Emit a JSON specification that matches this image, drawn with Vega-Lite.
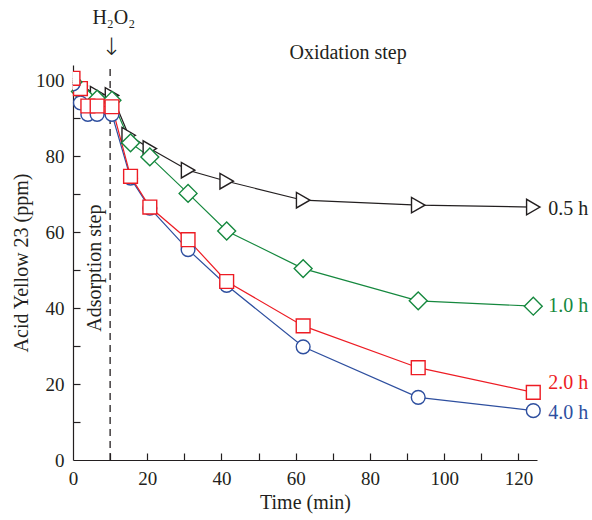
{
  "$schema": "https://vega.github.io/schema/vega-lite/v6.json",
  "width": 464,
  "height": 395,
  "autosize": "none",
  "padding": {"left": 73, "top": 65, "right": 55, "bottom": 60},
  "config": {
    "font": "Liberation Serif",
    "view": {"stroke": null},
    "axis": {
      "grid": false,
      "labelFlush": false,
      "domainColor": "#231f20",
      "domainWidth": 1.2,
      "tickColor": "#231f20",
      "tickWidth": 1.2,
      "tickSize": 7,
      "labelFont": "Liberation Serif",
      "labelFontSize": 19,
      "labelColor": "#231f20",
      "titleFont": "Liberation Serif",
      "titleFontSize": 20,
      "titleFontWeight": "normal",
      "titleColor": "#231f20"
    }
  },
  "resolve": {"axis": {"x": "independent", "y": "independent"}},
  "datasets": {
    "series": [
      {"s": "0.5 h", "t": 0, "c": 100},
      {"s": "0.5 h", "t": 2, "c": 98.5},
      {"s": "0.5 h", "t": 4, "c": 96.5},
      {"s": "0.5 h", "t": 6.5, "c": 96.3},
      {"s": "0.5 h", "t": 10.5, "c": 96},
      {"s": "0.5 h", "t": 15, "c": 85.5},
      {"s": "0.5 h", "t": 20.7, "c": 82},
      {"s": "0.5 h", "t": 31, "c": 76.3},
      {"s": "0.5 h", "t": 41.4, "c": 73.4},
      {"s": "0.5 h", "t": 62, "c": 68.4},
      {"s": "0.5 h", "t": 93, "c": 67.1},
      {"s": "0.5 h", "t": 124, "c": 66.6},
      {"s": "1.0 h", "t": 0, "c": 99.5},
      {"s": "1.0 h", "t": 2, "c": 97},
      {"s": "1.0 h", "t": 4, "c": 95},
      {"s": "1.0 h", "t": 6.5, "c": 95},
      {"s": "1.0 h", "t": 10.5, "c": 94.7},
      {"s": "1.0 h", "t": 15.5, "c": 83.5},
      {"s": "1.0 h", "t": 20.7, "c": 79.8},
      {"s": "1.0 h", "t": 31, "c": 70.2},
      {"s": "1.0 h", "t": 41.4, "c": 60.3},
      {"s": "1.0 h", "t": 62, "c": 50.4},
      {"s": "1.0 h", "t": 93, "c": 41.9},
      {"s": "1.0 h", "t": 124, "c": 40.5},
      {"s": "4.0 h", "t": 0, "c": 99},
      {"s": "4.0 h", "t": 2, "c": 94},
      {"s": "4.0 h", "t": 4, "c": 91},
      {"s": "4.0 h", "t": 6.5, "c": 91},
      {"s": "4.0 h", "t": 10.5, "c": 91},
      {"s": "4.0 h", "t": 15.5, "c": 74.2},
      {"s": "4.0 h", "t": 20.7, "c": 66.3},
      {"s": "4.0 h", "t": 31, "c": 55.4},
      {"s": "4.0 h", "t": 41.4, "c": 46},
      {"s": "4.0 h", "t": 62, "c": 29.8},
      {"s": "4.0 h", "t": 93, "c": 16.5},
      {"s": "4.0 h", "t": 124, "c": 13},
      {"s": "2.0 h", "t": 0, "c": 100.5},
      {"s": "2.0 h", "t": 2, "c": 97.8},
      {"s": "2.0 h", "t": 4, "c": 93.2},
      {"s": "2.0 h", "t": 6.5, "c": 93.2},
      {"s": "2.0 h", "t": 10.5, "c": 93},
      {"s": "2.0 h", "t": 15.5, "c": 74.7},
      {"s": "2.0 h", "t": 20.7, "c": 66.6},
      {"s": "2.0 h", "t": 31, "c": 58},
      {"s": "2.0 h", "t": 41.4, "c": 47},
      {"s": "2.0 h", "t": 62, "c": 35.3},
      {"s": "2.0 h", "t": 93, "c": 24.3},
      {"s": "2.0 h", "t": 124, "c": 17.8}
    ],
    "labels": [
      {"s": "0.5 h", "t": 128, "c": 66, "label": "0.5 h"},
      {"s": "1.0 h", "t": 128, "c": 40.5, "label": "1.0 h"},
      {"s": "2.0 h", "t": 128, "c": 20.3, "label": "2.0 h"},
      {"s": "4.0 h", "t": 128, "c": 12.4, "label": "4.0 h"}
    ],
    "notes": [
      {"t": 11, "c": 116.3, "label": "H₂O₂"},
      {"t": 74.1, "c": 107.1, "label": "Oxidation step"}
    ]
  },
  "layer": [
    {
      "data": {"values": [{"t": 10, "y0": 0, "y1": 104}]},
      "mark": {"type": "rule", "strokeDash": [7, 5], "color": "#231f20", "strokeWidth": 1.3},
      "encoding": {
        "x": {"field": "t", "type": "quantitative", "scale": {"domain": [0, 125], "nice": false}, "title": "Time (min)",
          "axis": {"orient": "bottom", "ticks": false, "values": [0, 20, 40, 60, 80, 100, 120], "labelPadding": 9, "titlePadding": 4}},
        "y": {"field": "y0", "type": "quantitative", "scale": {"domain": [0, 104], "nice": false}, "title": "Acid Yellow 23 (ppm)",
          "axis": {"orient": "left", "ticks": false, "values": [0, 20, 40, 60, 80, 100], "labelPadding": 9, "titlePadding": 4}},
        "y2": {"field": "y1"}
      }
    },
    {
      "data": {"values": [{"t": 10.3, "c": 108.6, "label": "↓"}]},
      "mark": {"type": "text", "fontSize": 24, "font": "DejaVu Sans", "fontWeight": 200, "color": "#231f20", "baseline": "middle", "align": "center"},
      "encoding": {
        "x": {"field": "t", "type": "quantitative", "axis": null},
        "y": {"field": "c", "type": "quantitative", "axis": null},
        "text": {"field": "label"}
      }
    },
    {
      "data": {"name": "series"},
      "mark": {"type": "line", "strokeWidth": 1.2},
      "encoding": {
        "x": {"field": "t", "type": "quantitative",
          "axis": {"orient": "top", "offset": -395, "domain": false, "labels": false, "title": null, "values": [10, 20, 30, 40, 50, 60, 70, 80, 90, 100, 110, 120]}},
        "y": {"field": "c", "type": "quantitative",
          "axis": {"orient": "right", "offset": -464, "domain": false, "labels": false, "title": null, "values": [10, 20, 30, 40, 50, 60, 70, 80, 90, 100]}},
        "stroke": {"field": "s", "type": "nominal", "legend": null,
          "scale": {"domain": ["0.5 h", "1.0 h", "2.0 h", "4.0 h"], "range": ["#231f20", "#15883e", "#ed1c24", "#2e4f9f"]}},
        "detail": {"field": "s"}
      }
    },
    {
      "data": {"name": "series"},
      "transform": [{"filter": "datum.t > 0"}],
      "mark": {"type": "point", "filled": true, "fill": "white", "strokeWidth": 1.4, "opacity": 1},
      "encoding": {
        "x": {"field": "t", "type": "quantitative", "axis": null},
        "y": {"field": "c", "type": "quantitative", "axis": null},
        "stroke": {"field": "s", "type": "nominal", "legend": null,
          "scale": {"domain": ["0.5 h", "1.0 h", "2.0 h", "4.0 h"], "range": ["#231f20", "#15883e", "#ed1c24", "#2e4f9f"]}},
        "shape": {"field": "s", "type": "nominal", "legend": null,
          "scale": {"domain": ["0.5 h", "1.0 h", "2.0 h", "4.0 h"], "range": ["triangle-right", "diamond", "square", "circle"]}},
        "size": {"field": "s", "type": "nominal", "legend": null,
          "scale": {"type": "ordinal", "domain": ["0.5 h", "1.0 h", "2.0 h", "4.0 h"], "range": [240, 320, 190, 190]}}
      }
    },
    {
      "data": {"name": "series"},
      "transform": [{"filter": "datum.t == 0"}],
      "mark": {"type": "point", "filled": true, "fill": "white", "strokeWidth": 1.4, "opacity": 1, "clip": true},
      "encoding": {
        "x": {"field": "t", "type": "quantitative", "axis": null},
        "y": {"field": "c", "type": "quantitative", "axis": null},
        "stroke": {"field": "s", "type": "nominal", "legend": null,
          "scale": {"domain": ["0.5 h", "1.0 h", "2.0 h", "4.0 h"], "range": ["#231f20", "#15883e", "#ed1c24", "#2e4f9f"]}},
        "shape": {"field": "s", "type": "nominal", "legend": null,
          "scale": {"domain": ["0.5 h", "1.0 h", "2.0 h", "4.0 h"], "range": ["triangle-right", "diamond", "square", "circle"]}},
        "size": {"field": "s", "type": "nominal", "legend": null,
          "scale": {"type": "ordinal", "domain": ["0.5 h", "1.0 h", "2.0 h", "4.0 h"], "range": [240, 320, 190, 190]}}
      }
    },
    {
      "data": {"name": "labels"},
      "mark": {"type": "text", "fontSize": 20, "align": "left", "baseline": "middle"},
      "encoding": {
        "x": {"field": "t", "type": "quantitative", "axis": null},
        "y": {"field": "c", "type": "quantitative", "axis": null},
        "text": {"field": "label"},
        "color": {"field": "s", "type": "nominal", "legend": null,
          "scale": {"domain": ["0.5 h", "1.0 h", "2.0 h", "4.0 h"], "range": ["#231f20", "#15883e", "#ed1c24", "#2e4f9f"]}}
      }
    },
    {
      "data": {"name": "notes"},
      "mark": {"type": "text", "fontSize": 20, "align": "center", "baseline": "middle", "color": "#231f20"},
      "encoding": {
        "x": {"field": "t", "type": "quantitative", "axis": null},
        "y": {"field": "c", "type": "quantitative", "axis": null},
        "text": {"field": "label"}
      }
    },
    {
      "data": {"values": [{"t": 5.9, "c": 50.5, "label": "Adsorption step"}]},
      "mark": {"type": "text", "fontSize": 20, "align": "center", "baseline": "middle", "angle": 270, "color": "#231f20"},
      "encoding": {
        "x": {"field": "t", "type": "quantitative", "axis": null},
        "y": {"field": "c", "type": "quantitative", "axis": null},
        "text": {"field": "label"}
      }
    }
  ]
}
